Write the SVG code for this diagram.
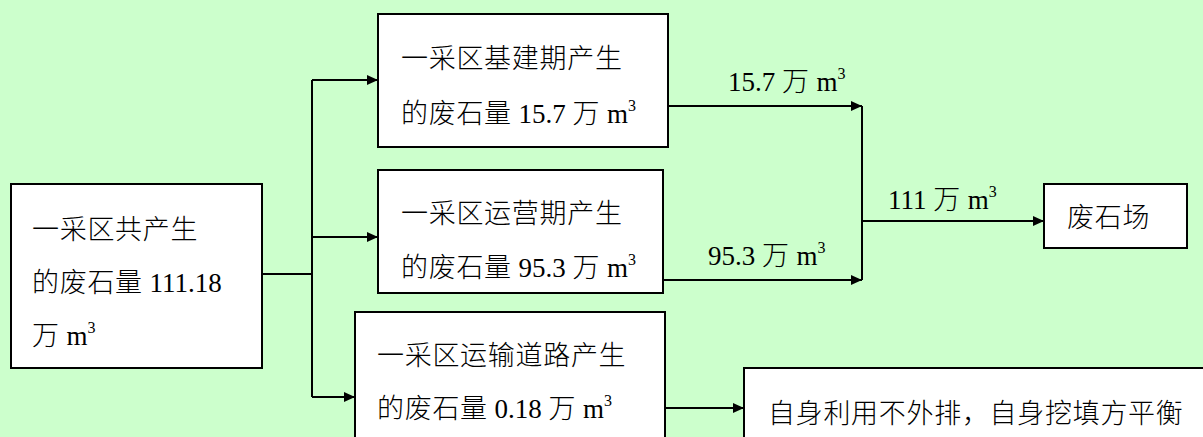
<svg xmlns="http://www.w3.org/2000/svg" width="1203" height="437" viewBox="0 0 1203 437">
<style>
.box{fill:#ffffff;stroke:#000000;stroke-width:2}
.ln{fill:none;stroke:#000000;stroke-width:2}
text{font-family:"Liberation Serif","Noto Sans CJK SC",serif;font-size:27px;fill:#000000}
.cj{letter-spacing:0.7px;font-weight:300}
.sup{font-size:16px}
</style>
<defs>
<marker id="ah" markerUnits="userSpaceOnUse" markerWidth="12" markerHeight="10" refX="11" refY="5" orient="auto">
<path d="M0,0 L11,5 L0,10 Z" fill="#000000"/>
</marker>
</defs>
<rect x="0" y="0" width="1203" height="437" fill="#ccffcc"/>
<g id="connectors">
<path class="ln" d="M262,274 H312"/>
<path class="ln" d="M312,80 V397"/>
<path class="ln" d="M312,80 H378" marker-end="url(#ah)"/>
<path class="ln" d="M312,237 H378" marker-end="url(#ah)"/>
<path class="ln" d="M312,397 H355" marker-end="url(#ah)"/>
<path class="ln" d="M668,106 H862" marker-end="url(#ah)"/>
<path class="ln" d="M663,280 H862" marker-end="url(#ah)"/>
<path class="ln" d="M862,106 V280"/>
<path class="ln" d="M862,221 H1044" marker-end="url(#ah)"/>
<path class="ln" d="M665,408 H744" marker-end="url(#ah)"/>
<text x="728" y="91">15.7 <tspan class="cj">万</tspan> m<tspan class="sup" dy="-12">3</tspan></text>
<text x="708" y="265">95.3 <tspan class="cj">万</tspan> m<tspan class="sup" dy="-12">3</tspan></text>
<text x="888" y="209">111 <tspan class="cj">万</tspan> m<tspan class="sup" dy="-12">3</tspan></text>
</g>
<g id="total">
<rect class="box" x="11" y="184" width="251" height="184"/>
<text x="32" y="239"><tspan class="cj">一采区共产生</tspan></text>
<text x="32" y="292"><tspan class="cj">的废石量</tspan> 111.18</text>
<text x="32" y="345"><tspan class="cj">万</tspan> m<tspan class="sup" dy="-12">3</tspan></text>
</g>
<g id="construction">
<rect class="box" x="378" y="14" width="290" height="133"/>
<text x="401" y="68"><tspan class="cj">一采区基建期产生</tspan></text>
<text x="401" y="123"><tspan class="cj">的废石量</tspan> 15.7 <tspan class="cj">万</tspan> m<tspan class="sup" dy="-12">3</tspan></text>
</g>
<g id="operation">
<rect class="box" x="378" y="170" width="285" height="123"/>
<text x="401" y="223"><tspan class="cj">一采区运营期产生</tspan></text>
<text x="401" y="277"><tspan class="cj">的废石量</tspan> 95.3 <tspan class="cj">万</tspan> m<tspan class="sup" dy="-12">3</tspan></text>
</g>
<g id="road">
<rect class="box" x="355" y="312" width="310" height="140"/>
<text x="377" y="365"><tspan class="cj">一采区运输道路产生</tspan></text>
<text x="377" y="418"><tspan class="cj">的废石量</tspan> 0.18 <tspan class="cj">万</tspan> m<tspan class="sup" dy="-12">3</tspan></text>
</g>
<g id="dump">
<rect class="box" x="1044" y="184" width="143" height="64"/>
<text x="1067" y="227"><tspan class="cj">废石场</tspan></text>
</g>
<g id="reuse">
<rect class="box" x="744" y="368" width="480" height="100"/>
<text x="768" y="423"><tspan class="cj">自身利用不外排，自身挖填方平衡</tspan></text>
</g>
</svg>
